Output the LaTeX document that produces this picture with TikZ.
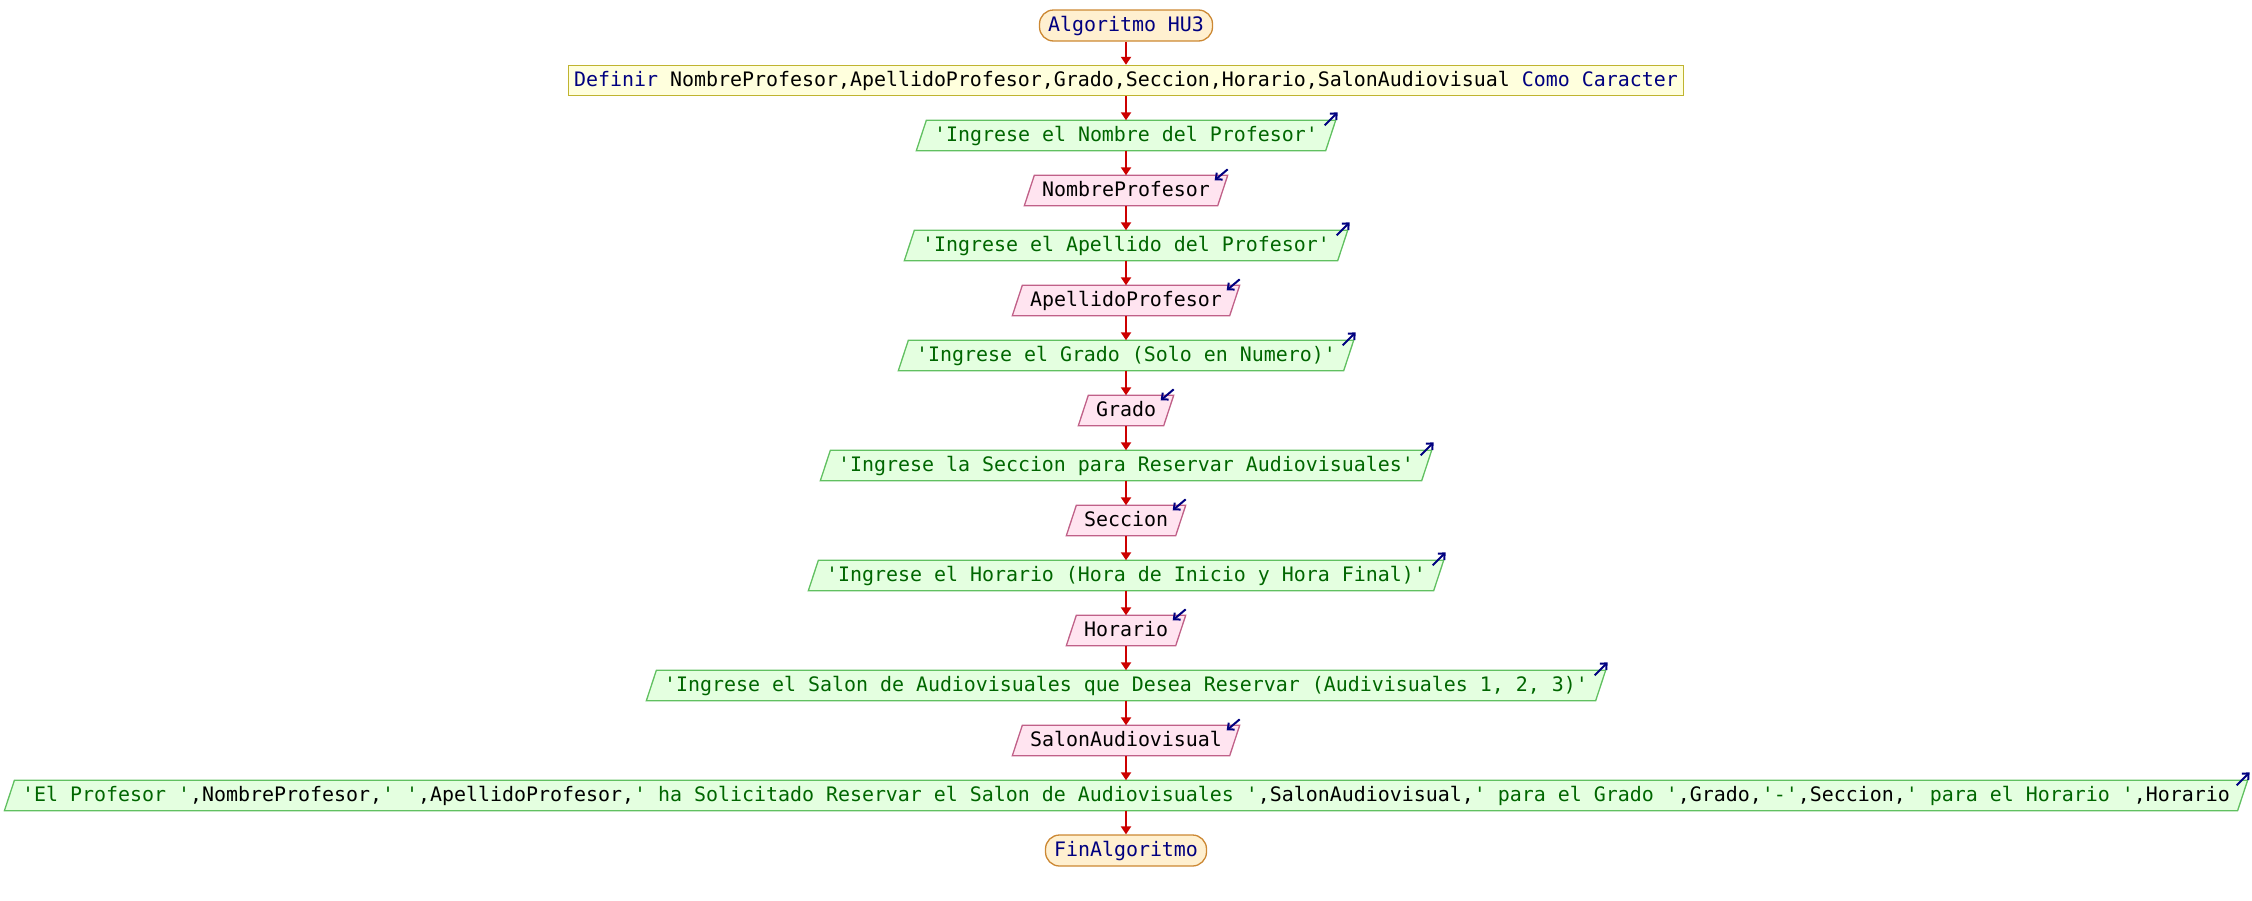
\documentclass[tikz,border=0pt]{standalone}
\usepackage{fontspec}
\usetikzlibrary{arrows.meta,backgrounds,calc}
\newfontfamily\codefont{DejaVu Sans Mono}[Ligatures=TeXOff]
\definecolor{kwnavy}{HTML}{000080}
\definecolor{strgreen}{HTML}{006600}
\definecolor{pillfill}{HTML}{FFF0D0}
\definecolor{pilldraw}{HTML}{CC8833}
\definecolor{deffill}{HTML}{FFFFDD}
\definecolor{defdraw}{HTML}{C0B430}
\definecolor{outfill}{HTML}{E4FFE0}
\definecolor{outdraw}{HTML}{60C060}
\definecolor{infill}{HTML}{FFE4F0}
\definecolor{indraw}{HTML}{C06088}
\definecolor{flowred}{HTML}{CC0000}
\newcommand\kw[1]{\textcolor{kwnavy}{#1}}
\newcommand\st[1]{\textcolor{strgreen}{#1}}
\newcommand\outpara[1]{%
  \draw[outshape] ([xshift=-5pt]#1.south west) -- ([xshift=5pt]#1.north west) -- ([xshift=5pt]#1.north east) -- ([xshift=-5pt]#1.south east) -- cycle;}
\newcommand\inpara[1]{%
  \draw[inshape] ([xshift=-5pt]#1.south west) -- ([xshift=5pt]#1.north west) -- ([xshift=5pt]#1.north east) -- ([xshift=-5pt]#1.south east) -- cycle;}
\newcommand\outicon[1]{\draw[icon] ($(#1.north east)+(-6pt,-5pt)$) -- ($(#1.north east)+(7pt,8pt)$);}
\newcommand\inicon[1]{\draw[icon] ($(#1.north east)+(5pt,6pt)$) -- ($(#1.north east)+(-8pt,-5pt)$);}
\begin{document}
\begin{tikzpicture}[x=1pt,y=-1pt,
  base/.style={font=\codefont\fontsize{19.93}{24}\selectfont, text height=15.5pt, text depth=3.5pt, inner ysep=0pt},
  pill/.style={base, rectangle, rounded corners=14pt, draw=pilldraw, fill=pillfill, line width=1.3pt, inner xsep=8.5pt, minimum height=31pt, text=kwnavy},
  defbox/.style={base, rectangle, draw=defdraw, fill=deffill, line width=1.4pt, inner xsep=5.5pt, minimum height=30pt},
  iobox/.style={base, inner xsep=12.5pt, minimum height=30pt},
  outshape/.style={draw=outdraw, fill=outfill, line width=1.3pt},
  inshape/.style={draw=indraw, fill=infill, line width=1.3pt},
  flow/.style={draw=flowred, line width=2pt, -{Triangle[length=8pt,width=10pt]}},
  icon/.style={draw=kwnavy, line width=2pt, -{Straight Barb[length=5pt,width=9pt]}}
]
\useasboundingbox (0,0) rectangle (2252,900);
\node[pill] (n1) at (1126,25.5) {Algoritmo HU3};
\node[defbox] (n2) at (1126,80.5) {\kw{Definir} NombreProfesor,ApellidoProfesor,Grado,Seccion,Horario,SalonAudiovisual \kw{Como Caracter}};
\node[iobox] (n3) at (1126,135.5) {\st{'Ingrese el Nombre del Profesor'}};
\node[iobox] (n4) at (1126,190.5) {NombreProfesor};
\node[iobox] (n5) at (1126,245.5) {\st{'Ingrese el Apellido del Profesor'}};
\node[iobox] (n6) at (1126,300.5) {ApellidoProfesor};
\node[iobox] (n7) at (1126,355.5) {\st{'Ingrese el Grado (Solo en Numero)'}};
\node[iobox] (n8) at (1126,410.5) {Grado};
\node[iobox] (n9) at (1126,465.5) {\st{'Ingrese la Seccion para Reservar Audiovisuales'}};
\node[iobox] (n10) at (1126,520.5) {Seccion};
\node[iobox] (n11) at (1126,575.5) {\st{'Ingrese el Horario (Hora de Inicio y Hora Final)'}};
\node[iobox] (n12) at (1126,630.5) {Horario};
\node[iobox] (n13) at (1126,685.5) {\st{'Ingrese el Salon de Audiovisuales que Desea Reservar (Audivisuales 1, 2, 3)'}};
\node[iobox] (n14) at (1126,740.5) {SalonAudiovisual};
\node[iobox] (n15) at (1126,795.5) {\st{'El Profesor '},NombreProfesor,\st{' '},ApellidoProfesor,\st{' ha Solicitado Reservar el Salon de Audiovisuales '},SalonAudiovisual,\st{' para el Grado '},Grado,\st{'-'},Seccion,\st{' para el Horario '},Horario};
\node[pill] (n16) at (1126,850.5) {FinAlgoritmo};
\begin{scope}[on background layer]
  \outpara{n3} \inpara{n4} \outpara{n5} \inpara{n6} \outpara{n7} \inpara{n8}
  \outpara{n9} \inpara{n10} \outpara{n11} \inpara{n12} \outpara{n13} \inpara{n14}
  \outpara{n15}
\end{scope}
\outicon{n3} \inicon{n4} \outicon{n5} \inicon{n6} \outicon{n7} \inicon{n8}
\outicon{n9} \inicon{n10} \outicon{n11} \inicon{n12} \outicon{n13} \inicon{n14}
\outicon{n15}
\foreach \a/\b in {n1/n2,n2/n3,n3/n4,n4/n5,n5/n6,n6/n7,n7/n8,n8/n9,n9/n10,n10/n11,n11/n12,n12/n13,n13/n14,n14/n15,n15/n16}
  \draw[flow] (\a.south) -- (\b.north);
\end{tikzpicture}
\end{document}
